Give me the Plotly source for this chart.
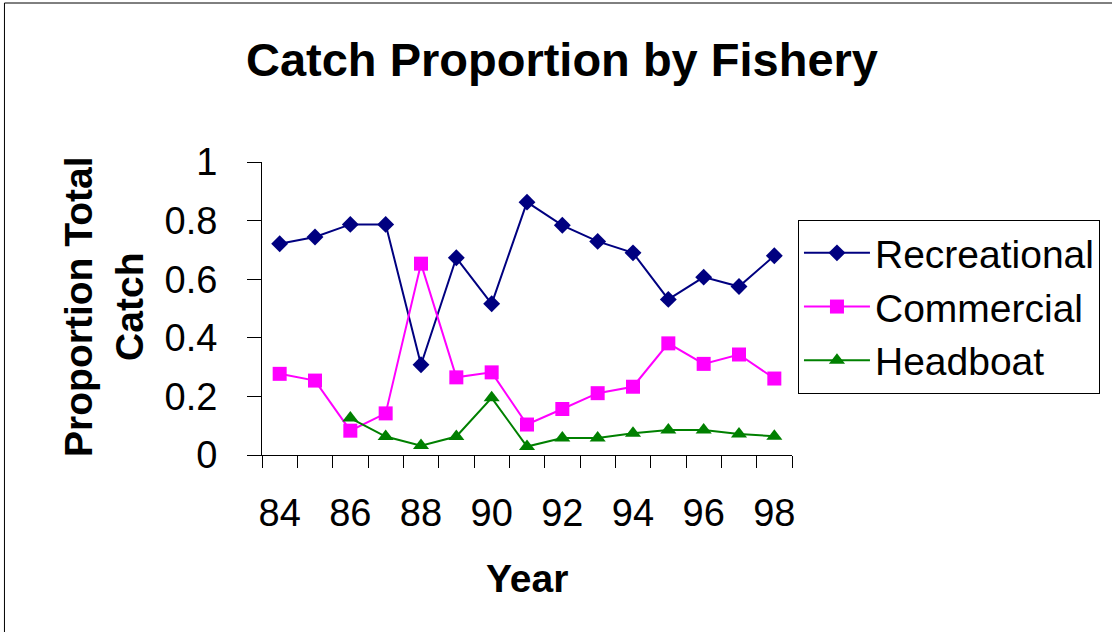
import plotly.graph_objects as go

years = list(range(84, 99))
recreational = [0.721, 0.744, 0.787, 0.787, 0.308, 0.673, 0.516, 0.863, 0.784, 0.729, 0.690, 0.531, 0.607, 0.575, 0.680]
commercial = [0.277, 0.254, 0.083, 0.142, 0.653, 0.265, 0.282, 0.104, 0.157, 0.211, 0.233, 0.381, 0.311, 0.343, 0.261]
headboat = [None, None, 0.126, 0.063, 0.032, 0.063, 0.195, 0.029, 0.058, 0.058, 0.074, 0.085, 0.085, 0.072, 0.064]
xtick_vals = [84, 86, 88, 90, 92, 94, 96, 98]
ytick_vals = [0, 0.2, 0.4, 0.6, 0.8, 1]

FONT = "Arial, Liberation Sans, sans-serif"

# plot area in pixels
PL, PR, PT, PB = 262, 795, 162, 455
PW, PH = PR - PL, PB - PT


def px_x(x):
    return (x - PL) / PW


def px_y(y):
    return (PB - y) / PH


fig = go.Figure()
fig.add_trace(go.Scatter(x=years, y=recreational, name="Recreational", mode="lines+markers",
                         line=dict(color="#000080", width=2),
                         marker=dict(symbol="diamond", size=13, color="#000080")))
fig.add_trace(go.Scatter(x=years, y=commercial, name="Commercial", mode="lines+markers",
                         line=dict(color="#FF00FF", width=2),
                         marker=dict(symbol="square", size=14, color="#FF00FF")))
fig.add_trace(go.Scatter(x=years, y=headboat, name="Headboat", mode="lines+markers",
                         line=dict(color="#008000", width=2),
                         marker=dict(symbol="triangle-up", size=14, color="#008000")))

fig.update_layout(
    width=1112, height=632,
    margin=dict(l=PL, r=1112 - PR, t=PT, b=632 - PB),
    paper_bgcolor="white", plot_bgcolor="white",
    font=dict(family=FONT, color="black"),
    title=dict(text="<b>Catch Proportion by Fishery</b>", x=562 / 1112, xanchor="center",
               y=1 - 60 / 632, yanchor="middle", font=dict(size=47, family=FONT, color="black")),
    showlegend=True,
    legend=dict(x=px_x(801), xanchor="left", y=px_y(220), yanchor="top",
                bordercolor="black", borderwidth=1, bgcolor="white", itemwidth=66,
                font=dict(size=39, family=FONT, color="black"), tracegroupgap=0),
)
fig.update_xaxes(range=[83.5, 98.5], tickvals=xtick_vals, ticktext=[str(v) for v in xtick_vals],
                 ticks="", showgrid=False, zeroline=False, showline=True, linecolor="black", linewidth=1,
                 tickfont=dict(size=38, family=FONT, color="black"), ticklabelstandoff=24,
                 minor=dict(tick0=83.5, dtick=1, ticks="outside", ticklen=12, tickcolor="black", showgrid=False))
fig.update_yaxes(range=[0, 1], tickvals=ytick_vals, ticktext=["0", "0.2", "0.4", "0.6", "0.8", "1"],
                 ticks="outside", ticklen=14, tickcolor="black", showgrid=False, zeroline=False,
                 showline=True, linecolor="black", linewidth=1, ticklabelstandoff=22,
                 tickfont=dict(size=38, family=FONT, color="black"))

fig.add_annotation(text="<b>Proportion Total<br>Catch</b>", xref="paper", yref="paper",
                   x=px_x(103), y=px_y(307), xanchor="center", yanchor="middle",
                   textangle=-90, showarrow=False, font=dict(size=39, family=FONT, color="black"))
fig.add_annotation(text="<b>Year</b>", xref="paper", yref="paper",
                   x=px_x(528), y=px_y(578), xanchor="center", yanchor="middle",
                   showarrow=False, font=dict(size=39, family=FONT, color="black"))

fig.add_shape(type="rect", xref="paper", yref="paper",
              x0=px_x(3), x1=px_x(1130), y0=px_y(650), y1=px_y(3),
              line=dict(color="black", width=1), fillcolor="rgba(0,0,0,0)", layer="below")

fig.write_html("out.html", config={"displayModeBar": False},
               post_script="document.body.style.margin='0px';")
